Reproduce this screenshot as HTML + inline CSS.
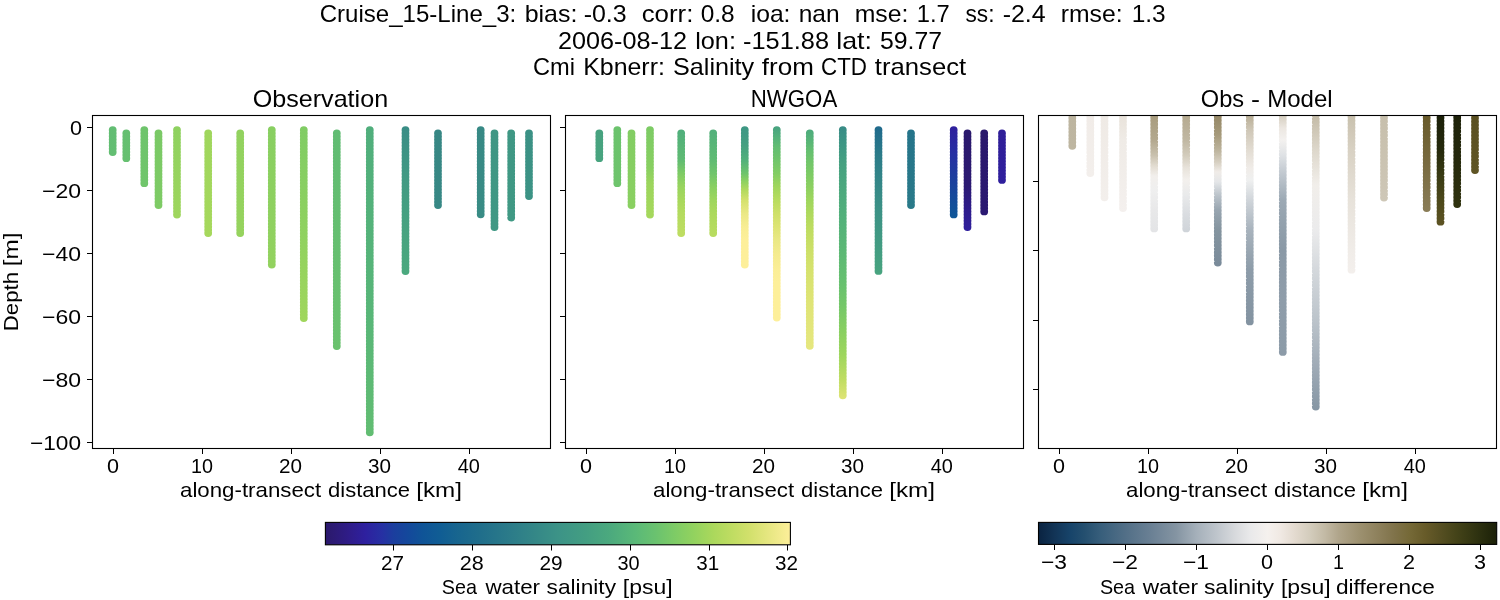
<!DOCTYPE html>
<html><head><meta charset="utf-8"><title>Cruise_15-Line_3 salinity transect</title>
<style>
html,body{margin:0;padding:0;background:#fff;}
body{width:1500px;height:600px;overflow:hidden;font-family:"Liberation Sans", sans-serif;}
svg{display:block;}
svg text{font-family:"Liberation Sans", sans-serif;fill:#000;}
</style></head><body>
<svg width="1500" height="600" viewBox="0 0 1500 600">
<defs>
<linearGradient id="g1" x1="0" y1="126.2" x2="0" y2="155.9" gradientUnits="userSpaceOnUse"><stop offset="0.000" stop-color="#62bd73"/><stop offset="1.000" stop-color="#63be72"/></linearGradient>
<linearGradient id="g2" x1="0" y1="129.4" x2="0" y2="162.1" gradientUnits="userSpaceOnUse"><stop offset="0.000" stop-color="#65bf71"/><stop offset="1.000" stop-color="#66c070"/></linearGradient>
<linearGradient id="g3" x1="0" y1="126.2" x2="0" y2="187.1" gradientUnits="userSpaceOnUse"><stop offset="0.000" stop-color="#6ec46c"/><stop offset="1.000" stop-color="#70c56b"/></linearGradient>
<linearGradient id="g4" x1="0" y1="129.4" x2="0" y2="209.0" gradientUnits="userSpaceOnUse"><stop offset="0.000" stop-color="#7ac966"/><stop offset="1.000" stop-color="#7ecb65"/></linearGradient>
<linearGradient id="g5" x1="0" y1="126.2" x2="0" y2="218.5" gradientUnits="userSpaceOnUse"><stop offset="0.000" stop-color="#8ed160"/><stop offset="1.000" stop-color="#9fd65d"/></linearGradient>
<linearGradient id="g6" x1="0" y1="129.4" x2="0" y2="236.9" gradientUnits="userSpaceOnUse"><stop offset="0.000" stop-color="#9fd65d"/><stop offset="1.000" stop-color="#a6d85c"/></linearGradient>
<linearGradient id="g7" x1="0" y1="129.4" x2="0" y2="236.9" gradientUnits="userSpaceOnUse"><stop offset="0.000" stop-color="#92d25f"/><stop offset="1.000" stop-color="#96d35e"/></linearGradient>
<linearGradient id="g8" x1="0" y1="126.2" x2="0" y2="268.5" gradientUnits="userSpaceOnUse"><stop offset="0.000" stop-color="#88cf61"/><stop offset="1.000" stop-color="#93d25f"/></linearGradient>
<linearGradient id="g9" x1="0" y1="126.2" x2="0" y2="321.9" gradientUnits="userSpaceOnUse"><stop offset="0.000" stop-color="#80cc64"/><stop offset="0.500" stop-color="#8ed160"/><stop offset="1.000" stop-color="#a0d65c"/></linearGradient>
<linearGradient id="g10" x1="0" y1="129.4" x2="0" y2="349.9" gradientUnits="userSpaceOnUse"><stop offset="0.000" stop-color="#61bc73"/><stop offset="1.000" stop-color="#6ac26e"/></linearGradient>
<linearGradient id="g11" x1="0" y1="126.2" x2="0" y2="436.2" gradientUnits="userSpaceOnUse"><stop offset="0.000" stop-color="#50ae7c"/><stop offset="0.600" stop-color="#58b678"/><stop offset="1.000" stop-color="#62bd72"/></linearGradient>
<linearGradient id="g12" x1="0" y1="126.2" x2="0" y2="274.9" gradientUnits="userSpaceOnUse"><stop offset="0.000" stop-color="#398d86"/><stop offset="0.350" stop-color="#419a83"/><stop offset="0.700" stop-color="#47a380"/><stop offset="1.000" stop-color="#4ba97e"/></linearGradient>
<linearGradient id="g13" x1="0" y1="129.4" x2="0" y2="209.0" gradientUnits="userSpaceOnUse"><stop offset="0.000" stop-color="#378784"/><stop offset="1.000" stop-color="#378885"/></linearGradient>
<linearGradient id="g14" x1="0" y1="126.2" x2="0" y2="218.2" gradientUnits="userSpaceOnUse"><stop offset="0.000" stop-color="#378985"/><stop offset="1.000" stop-color="#398c85"/></linearGradient>
<linearGradient id="g15" x1="0" y1="129.4" x2="0" y2="230.9" gradientUnits="userSpaceOnUse"><stop offset="0.000" stop-color="#3f9684"/><stop offset="1.000" stop-color="#409884"/></linearGradient>
<linearGradient id="g16" x1="0" y1="129.4" x2="0" y2="221.4" gradientUnits="userSpaceOnUse"><stop offset="0.000" stop-color="#3f9784"/><stop offset="1.000" stop-color="#409984"/></linearGradient>
<linearGradient id="g17" x1="0" y1="129.4" x2="0" y2="200.0" gradientUnits="userSpaceOnUse"><stop offset="0.000" stop-color="#3b9185"/><stop offset="1.000" stop-color="#3c9385"/></linearGradient>
<linearGradient id="g18" x1="0" y1="129.4" x2="0" y2="162.1" gradientUnits="userSpaceOnUse"><stop offset="0.000" stop-color="#47a27f"/><stop offset="1.000" stop-color="#48a47f"/></linearGradient>
<linearGradient id="g19" x1="0" y1="126.2" x2="0" y2="187.1" gradientUnits="userSpaceOnUse"><stop offset="0.000" stop-color="#6bc36d"/><stop offset="1.000" stop-color="#6ec46c"/></linearGradient>
<linearGradient id="g20" x1="0" y1="129.4" x2="0" y2="209.0" gradientUnits="userSpaceOnUse"><stop offset="0.000" stop-color="#82cd63"/><stop offset="1.000" stop-color="#8ad061"/></linearGradient>
<linearGradient id="g21" x1="0" y1="126.2" x2="0" y2="218.5" gradientUnits="userSpaceOnUse"><stop offset="0.000" stop-color="#7ccb65"/><stop offset="0.450" stop-color="#88cf61"/><stop offset="0.620" stop-color="#9cd55d"/><stop offset="1.000" stop-color="#a6d85c"/></linearGradient>
<linearGradient id="g22" x1="0" y1="129.4" x2="0" y2="236.9" gradientUnits="userSpaceOnUse"><stop offset="0.000" stop-color="#4fae7c"/><stop offset="0.280" stop-color="#5fbb73"/><stop offset="0.410" stop-color="#7ecb65"/><stop offset="0.530" stop-color="#98d45e"/><stop offset="0.660" stop-color="#a8d85c"/><stop offset="0.780" stop-color="#b4db5f"/><stop offset="1.000" stop-color="#bfdd62"/></linearGradient>
<linearGradient id="g23" x1="0" y1="129.4" x2="0" y2="236.9" gradientUnits="userSpaceOnUse"><stop offset="0.000" stop-color="#52b07b"/><stop offset="0.280" stop-color="#5fbb73"/><stop offset="0.410" stop-color="#70c56b"/><stop offset="0.530" stop-color="#88cf61"/><stop offset="0.660" stop-color="#9ed65d"/><stop offset="0.780" stop-color="#acd95c"/><stop offset="1.000" stop-color="#b9dc60"/></linearGradient>
<linearGradient id="g24" x1="0" y1="126.2" x2="0" y2="268.5" gradientUnits="userSpaceOnUse"><stop offset="0.000" stop-color="#3e9784"/><stop offset="0.070" stop-color="#409a83"/><stop offset="0.144" stop-color="#46a180"/><stop offset="0.238" stop-color="#52b07b"/><stop offset="0.332" stop-color="#6ec46c"/><stop offset="0.389" stop-color="#8ed160"/><stop offset="0.445" stop-color="#b0d95d"/><stop offset="0.520" stop-color="#d4e16d"/><stop offset="0.615" stop-color="#ebe886"/><stop offset="0.710" stop-color="#f8ed94"/><stop offset="0.800" stop-color="#fdef9a"/><stop offset="1.000" stop-color="#fdef9a"/></linearGradient>
<linearGradient id="g25" x1="0" y1="126.2" x2="0" y2="321.5" gradientUnits="userSpaceOnUse"><stop offset="0.000" stop-color="#46a180"/><stop offset="0.050" stop-color="#52b07b"/><stop offset="0.105" stop-color="#62bd72"/><stop offset="0.173" stop-color="#70c56b"/><stop offset="0.242" stop-color="#82cd63"/><stop offset="0.310" stop-color="#a0d65c"/><stop offset="0.378" stop-color="#b8dc5f"/><stop offset="0.447" stop-color="#cee069"/><stop offset="0.515" stop-color="#dde474"/><stop offset="0.584" stop-color="#eae885"/><stop offset="0.652" stop-color="#f4eb8e"/><stop offset="0.735" stop-color="#fbee97"/><stop offset="0.800" stop-color="#fdef9a"/><stop offset="1.000" stop-color="#fdef9a"/></linearGradient>
<linearGradient id="g26" x1="0" y1="129.4" x2="0" y2="349.7" gradientUnits="userSpaceOnUse"><stop offset="0.000" stop-color="#4dab7d"/><stop offset="0.053" stop-color="#58b577"/><stop offset="0.100" stop-color="#66c070"/><stop offset="0.150" stop-color="#72c66a"/><stop offset="0.200" stop-color="#7ccb65"/><stop offset="0.260" stop-color="#8cd061"/><stop offset="0.320" stop-color="#9ed65d"/><stop offset="0.380" stop-color="#aed95d"/><stop offset="0.440" stop-color="#bcdc60"/><stop offset="0.500" stop-color="#c6de64"/><stop offset="0.560" stop-color="#cee069"/><stop offset="0.640" stop-color="#d6e26e"/><stop offset="0.780" stop-color="#dfe476"/><stop offset="1.000" stop-color="#e6e77f"/></linearGradient>
<linearGradient id="g27" x1="0" y1="126.2" x2="0" y2="399.2" gradientUnits="userSpaceOnUse"><stop offset="0.000" stop-color="#388b86"/><stop offset="0.070" stop-color="#3e9784"/><stop offset="0.140" stop-color="#46a180"/><stop offset="0.325" stop-color="#52b07b"/><stop offset="0.472" stop-color="#5db974"/><stop offset="0.563" stop-color="#66c070"/><stop offset="0.655" stop-color="#74c769"/><stop offset="0.746" stop-color="#88cf61"/><stop offset="0.838" stop-color="#9ed65d"/><stop offset="0.930" stop-color="#c0dd62"/><stop offset="1.000" stop-color="#dfe476"/></linearGradient>
<linearGradient id="g28" x1="0" y1="126.2" x2="0" y2="274.8" gradientUnits="userSpaceOnUse"><stop offset="0.000" stop-color="#1f698c"/><stop offset="0.200" stop-color="#2c7c89"/><stop offset="0.550" stop-color="#3b9186"/><stop offset="1.000" stop-color="#48a47f"/></linearGradient>
<linearGradient id="g29" x1="0" y1="129.4" x2="0" y2="208.9" gradientUnits="userSpaceOnUse"><stop offset="0.000" stop-color="#25748a"/><stop offset="1.000" stop-color="#2a7a89"/></linearGradient>
<linearGradient id="g30" x1="0" y1="126.2" x2="0" y2="218.3" gradientUnits="userSpaceOnUse"><stop offset="0.000" stop-color="#2f1f9d"/><stop offset="0.300" stop-color="#2630a3"/><stop offset="0.600" stop-color="#1a409d"/><stop offset="1.000" stop-color="#0f5798"/></linearGradient>
<linearGradient id="g31" x1="0" y1="129.4" x2="0" y2="230.9" gradientUnits="userSpaceOnUse"><stop offset="0.000" stop-color="#2a186c"/><stop offset="0.550" stop-color="#2b1972"/><stop offset="0.800" stop-color="#2e1c8c"/><stop offset="1.000" stop-color="#2f1f9d"/></linearGradient>
<linearGradient id="g32" x1="0" y1="129.4" x2="0" y2="215.3" gradientUnits="userSpaceOnUse"><stop offset="0.000" stop-color="#2a186c"/><stop offset="1.000" stop-color="#2b1972"/></linearGradient>
<linearGradient id="g33" x1="0" y1="129.4" x2="0" y2="183.8" gradientUnits="userSpaceOnUse"><stop offset="0.000" stop-color="#2f1e98"/><stop offset="1.000" stop-color="#2f1f9d"/></linearGradient>
<linearGradient id="g34" x1="0" y1="110.7" x2="0" y2="149.7" gradientUnits="userSpaceOnUse"><stop offset="0.1364" stop-color="#bdb5a0"/><stop offset="1.0077" stop-color="#beb6a1"/></linearGradient>
<linearGradient id="g35" x1="0" y1="110.2" x2="0" y2="177.0" gradientUnits="userSpaceOnUse"><stop offset="0.0865" stop-color="#f1ece8"/><stop offset="1.0000" stop-color="#f3efec"/></linearGradient>
<linearGradient id="g36" x1="0" y1="110.1" x2="0" y2="201.2" gradientUnits="userSpaceOnUse"><stop offset="0.0643" stop-color="#efeae5"/><stop offset="0.9978" stop-color="#f3efec"/></linearGradient>
<linearGradient id="g37" x1="0" y1="110.5" x2="0" y2="212.0" gradientUnits="userSpaceOnUse"><stop offset="0.0538" stop-color="#e9e3db"/><stop offset="0.2904" stop-color="#efebe6"/><stop offset="1.0000" stop-color="#f4f0ee"/></linearGradient>
<linearGradient id="g38" x1="0" y1="110.0" x2="0" y2="232.3" gradientUnits="userSpaceOnUse"><stop offset="0.0489" stop-color="#a89c7e"/><stop offset="0.2452" stop-color="#b3a88e"/><stop offset="0.3678" stop-color="#c8c0ad"/><stop offset="0.4578" stop-color="#e2dcd1"/><stop offset="0.5396" stop-color="#f2efec"/><stop offset="0.6541" stop-color="#efefef"/><stop offset="0.8176" stop-color="#e8e8e9"/><stop offset="0.9975" stop-color="#e3e4e6"/></linearGradient>
<linearGradient id="g39" x1="0" y1="110.0" x2="0" y2="232.3" gradientUnits="userSpaceOnUse"><stop offset="0.0489" stop-color="#b5aa90"/><stop offset="0.2452" stop-color="#c0b7a2"/><stop offset="0.3678" stop-color="#d2cbbb"/><stop offset="0.4741" stop-color="#e8e3db"/><stop offset="0.5723" stop-color="#f3f0ed"/><stop offset="0.6950" stop-color="#e9eaeb"/><stop offset="0.8585" stop-color="#d9dce0"/><stop offset="0.9975" stop-color="#cfd4d9"/></linearGradient>
<linearGradient id="g40" x1="0" y1="109.5" x2="0" y2="266.5" gradientUnits="userSpaceOnUse"><stop offset="0.0412" stop-color="#958867"/><stop offset="0.1622" stop-color="#a69a7b"/><stop offset="0.2578" stop-color="#bcb39c"/><stop offset="0.3343" stop-color="#d6cfc1"/><stop offset="0.3980" stop-color="#f0ece8"/><stop offset="0.4617" stop-color="#e4e6e8"/><stop offset="0.5445" stop-color="#bcc4cb"/><stop offset="0.6401" stop-color="#98a5b0"/><stop offset="0.7675" stop-color="#84949f"/><stop offset="0.9904" stop-color="#7a8b9a"/></linearGradient>
<linearGradient id="g41" x1="0" y1="109.4" x2="0" y2="325.3" gradientUnits="userSpaceOnUse"><stop offset="0.0307" stop-color="#b9af97"/><stop offset="0.0956" stop-color="#cfc7b7"/><stop offset="0.1882" stop-color="#e2dcd2"/><stop offset="0.2716" stop-color="#f0ece8"/><stop offset="0.3271" stop-color="#eff0f0"/><stop offset="0.4197" stop-color="#d0d5da"/><stop offset="0.5587" stop-color="#a8b3bd"/><stop offset="0.7439" stop-color="#8d9ca9"/><stop offset="0.9940" stop-color="#8393a1"/></linearGradient>
<linearGradient id="g42" x1="0" y1="108.6" x2="0" y2="355.8" gradientUnits="userSpaceOnUse"><stop offset="0.0298" stop-color="#d6cfc1"/><stop offset="0.0783" stop-color="#ece7e1"/><stop offset="0.1269" stop-color="#f3f1ef"/><stop offset="0.1876" stop-color="#dfe2e5"/><stop offset="0.2564" stop-color="#c3cad1"/><stop offset="0.3696" stop-color="#9ca9b4"/><stop offset="0.5719" stop-color="#8a99a6"/><stop offset="0.7742" stop-color="#8f9daa"/><stop offset="0.9927" stop-color="#8c9ba8"/></linearGradient>
<linearGradient id="g43" x1="0" y1="111.3" x2="0" y2="410.5" gradientUnits="userSpaceOnUse"><stop offset="0.0157" stop-color="#c4bba7"/><stop offset="0.1293" stop-color="#ddd7cb"/><stop offset="0.2463" stop-color="#f1eeea"/><stop offset="0.3967" stop-color="#ebebec"/><stop offset="0.5304" stop-color="#d4d8dc"/><stop offset="0.6975" stop-color="#bcc4cb"/><stop offset="0.8312" stop-color="#a3aeb9"/><stop offset="0.9950" stop-color="#8696a4"/></linearGradient>
<linearGradient id="g44" x1="0" y1="109.7" x2="0" y2="273.6" gradientUnits="userSpaceOnUse"><stop offset="0.0385" stop-color="#c9c1ae"/><stop offset="0.2459" stop-color="#d8d1c3"/><stop offset="0.5510" stop-color="#e7e2da"/><stop offset="0.8560" stop-color="#f0ece8"/><stop offset="0.9902" stop-color="#f3efec"/></linearGradient>
<linearGradient id="g45" x1="0" y1="110.4" x2="0" y2="201.5" gradientUnits="userSpaceOnUse"><stop offset="0.0610" stop-color="#c7bfac"/><stop offset="0.9835" stop-color="#cec7b7"/></linearGradient>
<linearGradient id="g46" x1="0" y1="110.4" x2="0" y2="211.9" gradientUnits="userSpaceOnUse"><stop offset="0.0548" stop-color="#685a2a"/><stop offset="0.4885" stop-color="#786a3f"/><stop offset="0.9911" stop-color="#8a7d57"/></linearGradient>
<linearGradient id="g47" x1="0" y1="110.3" x2="0" y2="225.6" gradientUnits="userSpaceOnUse"><stop offset="0.0498" stop-color="#1b2008"/><stop offset="0.3445" stop-color="#25290c"/><stop offset="0.5613" stop-color="#383a13"/><stop offset="0.7780" stop-color="#4c481a"/><stop offset="0.9948" stop-color="#5d5323"/></linearGradient>
<linearGradient id="g48" x1="0" y1="110.0" x2="0" y2="208.0" gradientUnits="userSpaceOnUse"><stop offset="0.0612" stop-color="#1d2109"/><stop offset="0.5102" stop-color="#25290c"/><stop offset="0.9898" stop-color="#30330f"/></linearGradient>
<linearGradient id="g49" x1="0" y1="110.7" x2="0" y2="174.0" gradientUnits="userSpaceOnUse"><stop offset="0.0838" stop-color="#594f20"/><stop offset="0.9842" stop-color="#5f5525"/></linearGradient>
<clipPath id="clip3"><rect x="1038.5" y="115.5" width="458" height="333"/></clipPath>
<linearGradient id="haline" x1="0" y1="0" x2="1" y2="0"><stop offset="0.0%" stop-color="#2a186c"/><stop offset="1.4%" stop-color="#2c1a72"/><stop offset="5.0%" stop-color="#2f1c88"/><stop offset="8.6%" stop-color="#2e209f"/><stop offset="12.2%" stop-color="#2630a3"/><stop offset="14.7%" stop-color="#1b3e9e"/><stop offset="18.0%" stop-color="#13499b"/><stop offset="21.0%" stop-color="#0f5497"/><stop offset="24.7%" stop-color="#105d94"/><stop offset="28.3%" stop-color="#17658f"/><stop offset="33.3%" stop-color="#206e8b"/><stop offset="40.0%" stop-color="#2c7c89"/><stop offset="45.0%" stop-color="#348787"/><stop offset="50.0%" stop-color="#3c9387"/><stop offset="56.0%" stop-color="#439e82"/><stop offset="61.0%" stop-color="#4ba97e"/><stop offset="66.7%" stop-color="#5ab978"/><stop offset="71.0%" stop-color="#6ac26f"/><stop offset="75.0%" stop-color="#7dcb66"/><stop offset="79.0%" stop-color="#91d25f"/><stop offset="83.3%" stop-color="#aad85c"/><stop offset="87.0%" stop-color="#bddc61"/><stop offset="91.0%" stop-color="#d1e06b"/><stop offset="95.5%" stop-color="#e7e782"/><stop offset="100.0%" stop-color="#fdef9a"/></linearGradient>
<linearGradient id="diff" x1="0" y1="0" x2="1" y2="0"><stop offset="0.0%" stop-color="#0a2341"/><stop offset="3.5%" stop-color="#123456"/><stop offset="7.0%" stop-color="#17446a"/><stop offset="10.0%" stop-color="#244f6f"/><stop offset="13.5%" stop-color="#375e7b"/><stop offset="19.0%" stop-color="#526f87"/><stop offset="24.5%" stop-color="#6a8094"/><stop offset="30.0%" stop-color="#8494a2"/><stop offset="34.5%" stop-color="#a5b0ba"/><stop offset="38.5%" stop-color="#bcc3ca"/><stop offset="43.0%" stop-color="#d8dadd"/><stop offset="46.2%" stop-color="#e9e9ea"/><stop offset="50.0%" stop-color="#f5f1ee"/><stop offset="52.8%" stop-color="#f0e9e3"/><stop offset="56.0%" stop-color="#e3dacf"/><stop offset="59.3%" stop-color="#d3ccbc"/><stop offset="62.6%" stop-color="#c2b9a4"/><stop offset="65.5%" stop-color="#b0a58b"/><stop offset="70.2%" stop-color="#9c906f"/><stop offset="74.5%" stop-color="#8c7f5a"/><stop offset="77.8%" stop-color="#7f7249"/><stop offset="81.0%" stop-color="#756937"/><stop offset="84.4%" stop-color="#675b29"/><stop offset="87.7%" stop-color="#564f22"/><stop offset="91.0%" stop-color="#454419"/><stop offset="94.2%" stop-color="#363813"/><stop offset="96.5%" stop-color="#2b2f0f"/><stop offset="100.0%" stop-color="#1b2008"/></linearGradient>
</defs>
<rect width="1500" height="600" fill="#fff"/>
<g id="bars12">
<path d="M112.70 130.10V152.01" stroke="url(#g1)" stroke-width="7.8" stroke-linecap="round" stroke-dasharray="0 3.1286" fill="none"/>
<path d="M126.30 133.30V158.21" stroke="url(#g2)" stroke-width="7.8" stroke-linecap="round" stroke-dasharray="0 3.1125" fill="none"/>
<path d="M144.30 130.10V183.21" stroke="url(#g3)" stroke-width="7.8" stroke-linecap="round" stroke-dasharray="0 3.1235" fill="none"/>
<path d="M158.50 133.30V205.11" stroke="url(#g4)" stroke-width="7.8" stroke-linecap="round" stroke-dasharray="0 3.1217" fill="none"/>
<path d="M177.00 130.10V214.61" stroke="url(#g5)" stroke-width="7.8" stroke-linecap="round" stroke-dasharray="0 3.1296" fill="none"/>
<path d="M208.20 133.30V233.01" stroke="url(#g6)" stroke-width="7.8" stroke-linecap="round" stroke-dasharray="0 3.1156" fill="none"/>
<path d="M240.20 133.30V233.01" stroke="url(#g7)" stroke-width="7.8" stroke-linecap="round" stroke-dasharray="0 3.1156" fill="none"/>
<path d="M271.80 130.10V264.61" stroke="url(#g8)" stroke-width="7.8" stroke-linecap="round" stroke-dasharray="0 3.1279" fill="none"/>
<path d="M303.80 130.10V318.01" stroke="url(#g9)" stroke-width="7.8" stroke-linecap="round" stroke-dasharray="0 3.1317" fill="none"/>
<path d="M336.80 133.30V346.01" stroke="url(#g10)" stroke-width="7.8" stroke-linecap="round" stroke-dasharray="0 3.1279" fill="none"/>
<path d="M369.80 130.10V432.31" stroke="url(#g11)" stroke-width="7.8" stroke-linecap="round" stroke-dasharray="0 3.1479" fill="none"/>
<path d="M405.50 130.10V271.01" stroke="url(#g12)" stroke-width="7.8" stroke-linecap="round" stroke-dasharray="0 3.1311" fill="none"/>
<path d="M438.00 133.30V205.11" stroke="url(#g13)" stroke-width="7.8" stroke-linecap="round" stroke-dasharray="0 3.1217" fill="none"/>
<path d="M480.70 130.10V214.31" stroke="url(#g14)" stroke-width="7.8" stroke-linecap="round" stroke-dasharray="0 3.1185" fill="none"/>
<path d="M494.50 133.30V227.01" stroke="url(#g15)" stroke-width="7.8" stroke-linecap="round" stroke-dasharray="0 3.1233" fill="none"/>
<path d="M511.20 133.30V217.51" stroke="url(#g16)" stroke-width="7.8" stroke-linecap="round" stroke-dasharray="0 3.1185" fill="none"/>
<path d="M529.00 133.30V196.11" stroke="url(#g17)" stroke-width="7.8" stroke-linecap="round" stroke-dasharray="0 3.1400" fill="none"/>
<path d="M599.30 133.30V158.21" stroke="url(#g18)" stroke-width="7.8" stroke-linecap="round" stroke-dasharray="0 3.1125" fill="none"/>
<path d="M617.30 130.10V183.21" stroke="url(#g19)" stroke-width="7.8" stroke-linecap="round" stroke-dasharray="0 3.1235" fill="none"/>
<path d="M631.50 133.30V205.11" stroke="url(#g20)" stroke-width="7.8" stroke-linecap="round" stroke-dasharray="0 3.1217" fill="none"/>
<path d="M650.00 130.10V214.61" stroke="url(#g21)" stroke-width="7.8" stroke-linecap="round" stroke-dasharray="0 3.1296" fill="none"/>
<path d="M681.20 133.30V233.01" stroke="url(#g22)" stroke-width="7.8" stroke-linecap="round" stroke-dasharray="0 3.1156" fill="none"/>
<path d="M713.20 133.30V233.01" stroke="url(#g23)" stroke-width="7.8" stroke-linecap="round" stroke-dasharray="0 3.1156" fill="none"/>
<path d="M744.80 130.10V264.61" stroke="url(#g24)" stroke-width="7.8" stroke-linecap="round" stroke-dasharray="0 3.1279" fill="none"/>
<path d="M776.80 130.10V317.61" stroke="url(#g25)" stroke-width="7.8" stroke-linecap="round" stroke-dasharray="0 3.1250" fill="none"/>
<path d="M809.80 133.30V345.81" stroke="url(#g26)" stroke-width="7.8" stroke-linecap="round" stroke-dasharray="0 3.1716" fill="none"/>
<path d="M842.80 130.10V395.31" stroke="url(#g27)" stroke-width="7.8" stroke-linecap="round" stroke-dasharray="0 3.1571" fill="none"/>
<path d="M878.50 130.10V270.91" stroke="url(#g28)" stroke-width="7.8" stroke-linecap="round" stroke-dasharray="0 3.1289" fill="none"/>
<path d="M911.00 133.30V205.01" stroke="url(#g29)" stroke-width="7.8" stroke-linecap="round" stroke-dasharray="0 3.1174" fill="none"/>
<path d="M953.70 130.10V214.41" stroke="url(#g30)" stroke-width="7.8" stroke-linecap="round" stroke-dasharray="0 3.1222" fill="none"/>
<path d="M967.50 133.30V227.01" stroke="url(#g31)" stroke-width="7.8" stroke-linecap="round" stroke-dasharray="0 3.1233" fill="none"/>
<path d="M984.20 133.30V211.41" stroke="url(#g32)" stroke-width="7.8" stroke-linecap="round" stroke-dasharray="0 3.1240" fill="none"/>
<path d="M1002.00 133.30V179.91" stroke="url(#g33)" stroke-width="7.8" stroke-linecap="round" stroke-dasharray="0 3.1067" fill="none"/>
</g>
<g id="bars3" clip-path="url(#clip3)">
<path d="M1072.30 114.58V145.81" stroke="url(#g34)" stroke-width="7.8" stroke-linecap="round" stroke-dasharray="0 3.4690" fill="none"/>
<path d="M1090.30 114.13V173.11" stroke="url(#g35)" stroke-width="7.8" stroke-linecap="round" stroke-dasharray="0 3.4690" fill="none"/>
<path d="M1104.50 114.04V197.31" stroke="url(#g36)" stroke-width="7.8" stroke-linecap="round" stroke-dasharray="0 3.4690" fill="none"/>
<path d="M1123.00 114.44V208.11" stroke="url(#g37)" stroke-width="7.8" stroke-linecap="round" stroke-dasharray="0 3.4690" fill="none"/>
<path d="M1154.20 113.92V228.41" stroke="url(#g38)" stroke-width="7.8" stroke-linecap="round" stroke-dasharray="0 3.4690" fill="none"/>
<path d="M1186.20 113.92V228.41" stroke="url(#g39)" stroke-width="7.8" stroke-linecap="round" stroke-dasharray="0 3.4690" fill="none"/>
<path d="M1217.80 113.43V262.61" stroke="url(#g40)" stroke-width="7.8" stroke-linecap="round" stroke-dasharray="0 3.4690" fill="none"/>
<path d="M1249.80 113.26V321.41" stroke="url(#g41)" stroke-width="7.8" stroke-linecap="round" stroke-dasharray="0 3.4690" fill="none"/>
<path d="M1282.80 112.54V351.91" stroke="url(#g42)" stroke-width="7.8" stroke-linecap="round" stroke-dasharray="0 3.4690" fill="none"/>
<path d="M1315.80 115.20V406.61" stroke="url(#g43)" stroke-width="7.8" stroke-linecap="round" stroke-dasharray="0 3.4690" fill="none"/>
<path d="M1351.50 113.60V269.71" stroke="url(#g44)" stroke-width="7.8" stroke-linecap="round" stroke-dasharray="0 3.4690" fill="none"/>
<path d="M1384.00 114.34V197.61" stroke="url(#g45)" stroke-width="7.8" stroke-linecap="round" stroke-dasharray="0 3.4690" fill="none"/>
<path d="M1426.70 114.34V208.01" stroke="url(#g46)" stroke-width="7.8" stroke-linecap="round" stroke-dasharray="0 3.4690" fill="none"/>
<path d="M1440.50 114.16V221.71" stroke="url(#g47)" stroke-width="7.8" stroke-linecap="round" stroke-dasharray="0 3.4690" fill="none"/>
<path d="M1457.20 113.91V204.11" stroke="url(#g48)" stroke-width="7.8" stroke-linecap="round" stroke-dasharray="0 3.4690" fill="none"/>
<path d="M1475.00 114.60V170.11" stroke="url(#g49)" stroke-width="7.8" stroke-linecap="round" stroke-dasharray="0 3.4690" fill="none"/>
</g>
<g id="colorbars">
<rect x="325.4" y="522.4" width="465" height="22.4" fill="url(#haline)" stroke="#000" stroke-width="1.1"/>
<rect x="1038.5" y="522.4" width="458.2" height="22.0" fill="url(#diff)" stroke="#000" stroke-width="1.1"/>
</g>
<g id="frames">
<rect x="92.5" y="115.5" width="458" height="333" fill="none" stroke="#000" stroke-width="1.1"/>
<rect x="565.5" y="115.5" width="458" height="333" fill="none" stroke="#000" stroke-width="1.1"/>
<rect x="1038.5" y="115.5" width="458" height="333" fill="none" stroke="#000" stroke-width="1.1"/>
</g>
<g id="ticks" fill="#000" shape-rendering="crispEdges">
<rect x="113" y="449" width="1" height="5"/>
<rect x="202" y="449" width="1" height="5"/>
<rect x="291" y="449" width="1" height="5"/>
<rect x="380" y="449" width="1" height="5"/>
<rect x="469" y="449" width="1" height="5"/>
<rect x="586" y="449" width="1" height="5"/>
<rect x="675" y="449" width="1" height="5"/>
<rect x="764" y="449" width="1" height="5"/>
<rect x="853" y="449" width="1" height="5"/>
<rect x="942" y="449" width="1" height="5"/>
<rect x="1059" y="449" width="1" height="5"/>
<rect x="1148" y="449" width="1" height="5"/>
<rect x="1237" y="449" width="1" height="5"/>
<rect x="1326" y="449" width="1" height="5"/>
<rect x="1415" y="449" width="1" height="5"/>
<rect x="87" y="127" width="5" height="1"/>
<rect x="87" y="190" width="5" height="1"/>
<rect x="87" y="253" width="5" height="1"/>
<rect x="87" y="316" width="5" height="1"/>
<rect x="87" y="379" width="5" height="1"/>
<rect x="87" y="442" width="5" height="1"/>
<rect x="560" y="127" width="5" height="1"/>
<rect x="560" y="190" width="5" height="1"/>
<rect x="560" y="253" width="5" height="1"/>
<rect x="560" y="316" width="5" height="1"/>
<rect x="560" y="379" width="5" height="1"/>
<rect x="560" y="442" width="5" height="1"/>
<rect x="1033" y="181" width="5" height="1"/>
<rect x="1033" y="250" width="5" height="1"/>
<rect x="1033" y="320" width="5" height="1"/>
<rect x="1033" y="389" width="5" height="1"/>
<rect x="393" y="545" width="1" height="5.5" shape-rendering="auto"/>
<rect x="472" y="545" width="1" height="5.5" shape-rendering="auto"/>
<rect x="551" y="545" width="1" height="5.5" shape-rendering="auto"/>
<rect x="630" y="545" width="1" height="5.5" shape-rendering="auto"/>
<rect x="709" y="545" width="1" height="5.5" shape-rendering="auto"/>
<rect x="787" y="545" width="1" height="5.5" shape-rendering="auto"/>
<rect x="1054" y="545" width="1" height="5"/>
<rect x="1125" y="545" width="1" height="5"/>
<rect x="1196" y="545" width="1" height="5"/>
<rect x="1267" y="545" width="1" height="5"/>
<rect x="1338" y="545" width="1" height="5"/>
<rect x="1409" y="545" width="1" height="5"/>
<rect x="1480" y="545" width="1" height="5"/>
</g>
<g id="labels" style="opacity:0.999">
<text x="319.70" y="21.7" font-size="23.2" textLength="196.63" lengthAdjust="spacingAndGlyphs">Cruise_15-Line_3:</text>
<text x="524.70" y="21.7" font-size="23.2" textLength="52.71" lengthAdjust="spacingAndGlyphs">bias:</text>
<text x="583.70" y="21.7" font-size="23.2" textLength="43.00" lengthAdjust="spacingAndGlyphs">-0.3</text>
<text x="641.70" y="21.7" font-size="23.2" textLength="51.72" lengthAdjust="spacingAndGlyphs">corr:</text>
<text x="700.70" y="21.7" font-size="23.2" textLength="34.00" lengthAdjust="spacingAndGlyphs">0.8</text>
<text x="750.70" y="21.7" font-size="23.2" textLength="39.76" lengthAdjust="spacingAndGlyphs">ioa:</text>
<text x="798.70" y="21.7" font-size="23.2" textLength="40.86" lengthAdjust="spacingAndGlyphs">nan</text>
<text x="854.70" y="21.7" font-size="23.2" textLength="53.71" lengthAdjust="spacingAndGlyphs">mse:</text>
<text x="916.70" y="21.7" font-size="23.2" textLength="33.00" lengthAdjust="spacingAndGlyphs">1.7</text>
<text x="965.50" y="21.7" font-size="23.2" textLength="29.00" lengthAdjust="spacingAndGlyphs">ss:</text>
<text x="1002.70" y="21.7" font-size="23.2" textLength="43.00" lengthAdjust="spacingAndGlyphs">-2.4</text>
<text x="1060.70" y="21.7" font-size="23.2" textLength="61.84" lengthAdjust="spacingAndGlyphs">rmse:</text>
<text x="1131.70" y="21.7" font-size="23.2" textLength="34.00" lengthAdjust="spacingAndGlyphs">1.3</text>
<text x="558.00" y="49.0" font-size="23.2" textLength="129.00" lengthAdjust="spacingAndGlyphs">2006-08-12</text>
<text x="695.20" y="49.0" font-size="23.2" textLength="40.75" lengthAdjust="spacingAndGlyphs">lon:</text>
<text x="743.00" y="49.0" font-size="23.2" textLength="86.00" lengthAdjust="spacingAndGlyphs">-151.88</text>
<text x="836.20" y="49.0" font-size="23.2" textLength="35.81" lengthAdjust="spacingAndGlyphs">lat:</text>
<text x="880.00" y="49.0" font-size="23.2" textLength="62.00" lengthAdjust="spacingAndGlyphs">59.77</text>
<text x="533.00" y="74.6" font-size="23.2" textLength="42.00" lengthAdjust="spacingAndGlyphs">Cmi</text>
<text x="583.20" y="74.6" font-size="23.2" textLength="81.68" lengthAdjust="spacingAndGlyphs">Kbnerr:</text>
<text x="673.00" y="74.6" font-size="23.2" textLength="81.19" lengthAdjust="spacingAndGlyphs">Salinity</text>
<text x="761.80" y="74.6" font-size="23.2" textLength="52.00" lengthAdjust="spacingAndGlyphs">from</text>
<text x="821.00" y="74.6" font-size="23.2" textLength="46.00" lengthAdjust="spacingAndGlyphs">CTD</text>
<text x="874.80" y="74.6" font-size="23.2" textLength="91.40" lengthAdjust="spacingAndGlyphs">transect</text>
<text x="252.70" y="106.7" font-size="23.2" textLength="135.43" lengthAdjust="spacingAndGlyphs">Observation</text>
<text x="750.80" y="106.7" font-size="23.2" textLength="86.41" lengthAdjust="spacingAndGlyphs">NWGOA</text>
<text x="1200.80" y="106.7" font-size="23.2" textLength="43.24" lengthAdjust="spacingAndGlyphs">Obs</text>
<text x="1251.00" y="106.7" font-size="23.2" textLength="9.00" lengthAdjust="spacingAndGlyphs">-</text>
<text x="1267.20" y="106.7" font-size="23.2" textLength="65.39" lengthAdjust="spacingAndGlyphs">Model</text>
<text x="180.00" y="497.4" font-size="20.2" textLength="141.19" lengthAdjust="spacingAndGlyphs">along-transect</text>
<text x="328.00" y="497.4" font-size="20.2" textLength="82.00" lengthAdjust="spacingAndGlyphs">distance</text>
<text x="416.20" y="497.4" font-size="20.2" textLength="45.73" lengthAdjust="spacingAndGlyphs">[km]</text>
<text x="653.00" y="497.4" font-size="20.2" textLength="141.19" lengthAdjust="spacingAndGlyphs">along-transect</text>
<text x="801.00" y="497.4" font-size="20.2" textLength="82.00" lengthAdjust="spacingAndGlyphs">distance</text>
<text x="889.20" y="497.4" font-size="20.2" textLength="45.73" lengthAdjust="spacingAndGlyphs">[km]</text>
<text x="1126.00" y="497.4" font-size="20.2" textLength="141.19" lengthAdjust="spacingAndGlyphs">along-transect</text>
<text x="1274.00" y="497.4" font-size="20.2" textLength="82.00" lengthAdjust="spacingAndGlyphs">distance</text>
<text x="1362.20" y="497.4" font-size="20.2" textLength="45.73" lengthAdjust="spacingAndGlyphs">[km]</text>
<text x="107.00" y="473" font-size="20.2" textLength="12.00" lengthAdjust="spacingAndGlyphs">0</text>
<text x="191.00" y="473" font-size="20.2" textLength="22.00" lengthAdjust="spacingAndGlyphs">10</text>
<text x="279.00" y="473" font-size="20.2" textLength="23.00" lengthAdjust="spacingAndGlyphs">20</text>
<text x="368.00" y="473" font-size="20.2" textLength="23.00" lengthAdjust="spacingAndGlyphs">30</text>
<text x="457.80" y="473" font-size="20.2" textLength="22.16" lengthAdjust="spacingAndGlyphs">40</text>
<text x="580.00" y="473" font-size="20.2" textLength="12.00" lengthAdjust="spacingAndGlyphs">0</text>
<text x="664.00" y="473" font-size="20.2" textLength="22.00" lengthAdjust="spacingAndGlyphs">10</text>
<text x="752.00" y="473" font-size="20.2" textLength="23.00" lengthAdjust="spacingAndGlyphs">20</text>
<text x="841.00" y="473" font-size="20.2" textLength="23.00" lengthAdjust="spacingAndGlyphs">30</text>
<text x="930.80" y="473" font-size="20.2" textLength="22.16" lengthAdjust="spacingAndGlyphs">40</text>
<text x="1053.00" y="473" font-size="20.2" textLength="12.00" lengthAdjust="spacingAndGlyphs">0</text>
<text x="1137.00" y="473" font-size="20.2" textLength="22.00" lengthAdjust="spacingAndGlyphs">10</text>
<text x="1225.00" y="473" font-size="20.2" textLength="23.00" lengthAdjust="spacingAndGlyphs">20</text>
<text x="1314.00" y="473" font-size="20.2" textLength="23.00" lengthAdjust="spacingAndGlyphs">30</text>
<text x="1403.80" y="473" font-size="20.2" textLength="22.16" lengthAdjust="spacingAndGlyphs">40</text>
<text x="70.00" y="135" font-size="20.2" textLength="12.00" lengthAdjust="spacingAndGlyphs">0</text>
<text x="42.00" y="198" font-size="20.2" textLength="39.00" lengthAdjust="spacingAndGlyphs">−20</text>
<text x="42.00" y="261" font-size="20.2" textLength="39.00" lengthAdjust="spacingAndGlyphs">−40</text>
<text x="42.00" y="324" font-size="20.2" textLength="39.00" lengthAdjust="spacingAndGlyphs">−60</text>
<text x="42.00" y="387" font-size="20.2" textLength="39.00" lengthAdjust="spacingAndGlyphs">−80</text>
<text x="30.00" y="450" font-size="20.2" textLength="51.00" lengthAdjust="spacingAndGlyphs">−100</text>
<text x="381.00" y="570" font-size="20.2" textLength="23.00" lengthAdjust="spacingAndGlyphs">27</text>
<text x="459.80" y="570" font-size="20.2" textLength="24.00" lengthAdjust="spacingAndGlyphs">28</text>
<text x="539.40" y="570" font-size="20.2" textLength="23.17" lengthAdjust="spacingAndGlyphs">29</text>
<text x="617.40" y="570" font-size="20.2" textLength="22.16" lengthAdjust="spacingAndGlyphs">30</text>
<text x="696.20" y="570" font-size="20.2" textLength="23.00" lengthAdjust="spacingAndGlyphs">31</text>
<text x="775.00" y="570" font-size="20.2" textLength="23.00" lengthAdjust="spacingAndGlyphs">32</text>
<text x="1041.00" y="569" font-size="20.2" textLength="26.00" lengthAdjust="spacingAndGlyphs">−3</text>
<text x="1112.00" y="569" font-size="20.2" textLength="26.00" lengthAdjust="spacingAndGlyphs">−2</text>
<text x="1183.00" y="569" font-size="20.2" textLength="26.00" lengthAdjust="spacingAndGlyphs">−1</text>
<text x="1261.00" y="569" font-size="20.2" textLength="12.00" lengthAdjust="spacingAndGlyphs">0</text>
<text x="1333.00" y="569" font-size="20.2" textLength="11.00" lengthAdjust="spacingAndGlyphs">1</text>
<text x="1403.00" y="569" font-size="20.2" textLength="12.00" lengthAdjust="spacingAndGlyphs">2</text>
<text x="1474.00" y="569" font-size="20.2" textLength="12.00" lengthAdjust="spacingAndGlyphs">3</text>
<text x="441.80" y="594.0" font-size="20.2" textLength="35.18" lengthAdjust="spacingAndGlyphs">Sea</text>
<text x="485.40" y="594.0" font-size="20.2" textLength="54.61" lengthAdjust="spacingAndGlyphs">water</text>
<text x="546.60" y="594.0" font-size="20.2" textLength="69.40" lengthAdjust="spacingAndGlyphs">salinity</text>
<text x="622.80" y="594.0" font-size="20.2" textLength="49.85" lengthAdjust="spacingAndGlyphs">[psu]</text>
<text x="1099.90" y="594.0" font-size="20.2" textLength="35.18" lengthAdjust="spacingAndGlyphs">Sea</text>
<text x="1142.70" y="594.0" font-size="20.2" textLength="55.40" lengthAdjust="spacingAndGlyphs">water</text>
<text x="1203.90" y="594.0" font-size="20.2" textLength="70.19" lengthAdjust="spacingAndGlyphs">salinity</text>
<text x="1280.90" y="594.0" font-size="20.2" textLength="49.85" lengthAdjust="spacingAndGlyphs">[psu]</text>
<text x="1335.90" y="594.0" font-size="20.2" textLength="99.00" lengthAdjust="spacingAndGlyphs">difference</text>
<text transform="translate(18.3,331.2) rotate(-90)" font-size="20.2" textLength="59.2" lengthAdjust="spacingAndGlyphs">Depth</text>
<text transform="translate(18.3,266.2) rotate(-90)" font-size="20.2" textLength="33.8" lengthAdjust="spacingAndGlyphs">[m]</text>
</g>
</svg>
</body></html>
